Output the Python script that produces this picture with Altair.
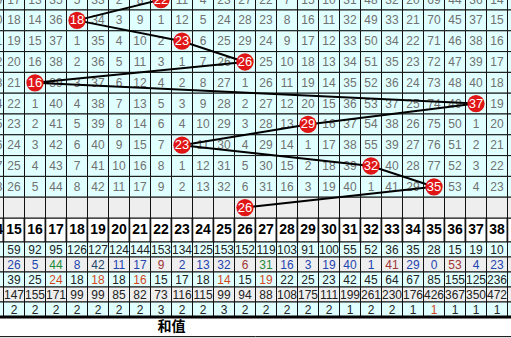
import altair as alt
import pandas as pd

# ---------------- data ----------------
cols = list(range(15, 39))                      # visible full columns (values)
edge_cols = [14, 39]                            # partially visible columns at the edges
draws = [22, 18, 23, 26, 16, 37, 29, 23, 32, 35, 26]   # drawn value per period (row)

# omission counts per period for columns 15..38 (hit cell holds 0)
miss_r0 = [17, 13, 35, 5, 33, 2, 8, 0, 11, 4, 23, 27, 22, 7, 15, 10, 31, 48, 32, 20, 69, 44, 36, 14]
miss_r1 = [18, 14, 36, 0, 34, 3, 9, 1, 12, 5, 24, 28, 23, 8, 16, 11, 32, 49, 33, 21, 70, 45, 37, 15]
miss_r2 = [19, 15, 37, 1, 35, 4, 10, 2, 0, 6, 25, 29, 24, 9, 17, 12, 33, 50, 34, 22, 71, 46, 38, 16]
miss_r3 = [20, 16, 38, 2, 36, 5, 11, 3, 1, 7, 26, 0, 25, 10, 18, 13, 34, 51, 35, 23, 72, 47, 39, 17]
miss_r4 = [21, 0, 39, 3, 37, 6, 12, 4, 2, 8, 27, 1, 26, 11, 19, 14, 35, 52, 36, 24, 73, 48, 40, 18]
miss_r5 = [22, 1, 40, 4, 38, 7, 13, 5, 3, 9, 28, 2, 27, 12, 20, 15, 36, 53, 37, 25, 74, 49, 0, 19]
miss_r6 = [23, 2, 41, 5, 39, 8, 14, 6, 4, 10, 29, 3, 28, 13, 0, 16, 37, 54, 38, 26, 75, 50, 1, 20]
miss_r7 = [24, 3, 42, 6, 40, 9, 15, 7, 0, 11, 30, 4, 29, 14, 1, 17, 38, 55, 39, 27, 76, 51, 2, 21]
miss_r8 = [25, 4, 43, 7, 41, 10, 16, 8, 1, 12, 31, 5, 30, 15, 2, 18, 39, 0, 40, 28, 77, 52, 3, 22]
miss_r9 = [26, 5, 44, 8, 42, 11, 17, 9, 2, 13, 32, 6, 31, 16, 3, 19, 40, 1, 41, 29, 0, 53, 4, 23]
miss_rows = [miss_r0, miss_r1, miss_r2, miss_r3, miss_r4, miss_r5, miss_r6, miss_r7, miss_r8, miss_r9]
col14_miss = [9, 10, 11, 12, 13, 14, 15, 16, 17, 18]   # left partial column (only last digit visible)

# statistics rows
stat_hits = [59, 92, 95, 126, 127, 124, 144, 153, 134, 125, 153, 152, 119, 103, 91, 100, 55, 52, 36, 35, 28, 15, 19, 10]
stat_current = [26, 5, 44, 8, 42, 11, 17, 9, 2, 13, 32, 6, 31, 16, 3, 19, 40, 1, 41, 29, 0, 53, 4, 23]
stat_avg = [39, 25, 24, 18, 18, 18, 16, 15, 17, 18, 14, 15, 19, 22, 25, 23, 42, 45, 64, 67, 85, 155, 125, 236]
stat_maxgap = [147, 155, 171, 99, 99, 85, 82, 73, 116, 115, 99, 94, 88, 108, 175, 111, 199, 261, 230, 176, 426, 367, 350, 472]
stat_maxrun = [2, 2, 2, 2, 2, 2, 2, 3, 2, 2, 3, 2, 2, 2, 2, 2, 1, 2, 2, 1, 1, 1, 1, 1]
current_level = ["cool", "cool", "warm", "cool", "deep", "cool", "cool", "hot",
                 "cool", "cool", "cool", "hot", "warm", "cool", "cool", "cool",
                 "cool", "cool", "hot", "cool", "cool", "hot", "cool", "cool"]
avg_level = ["plain", "plain", "mark", "plain", "mark", "plain", "mark", "plain",
             "plain", "plain", "mark", "plain", "mark", "plain", "plain", "plain",
             "plain", "plain", "plain", "plain", "plain", "plain", "plain", "plain"]
maxrun_level = ["plain"] * 20 + ["mark", "plain", "plain", "plain"]
footer_label = "和值"
table_span = (6, 39)   # full table column range; footer label is centred on it

# ---------------- layout / style ----------------
W = 511
H_GRID, H_HEAD, H_STAT, H_FOOT = 218, 24, 75, 21
LINE = "#111111"
FONT = "Liberation Sans"

xs = alt.Scale(domain=[301 / 21, 812 / 21], nice=False, zero=False)

# ---------------- grid (omission) panel ----------------
all_cols = [edge_cols[0]] + cols + [edge_cols[1]]
cells = pd.DataFrame([
    {"r": r, "c": c, "kind": "blank" if r == len(draws) - 1 else "plain"}
    for r in range(len(draws)) for c in all_cols
])
gtext = pd.DataFrame([
    {"r": r, "c": c, "v": v}
    for r, row in enumerate(miss_rows) for c, v in zip(cols, row) if c != draws[r]
])
gleft = pd.DataFrame({"r": list(range(len(col14_miss))), "c": edge_cols[0], "v": col14_miss})
balls = pd.DataFrame({"r": list(range(len(draws))), "draw": draws})

ys_grid = alt.Scale(domain=[0.02, 10.5], reverse=True, nice=False, zero=False)

g_rect = alt.Chart(cells).mark_rect(stroke=LINE, strokeWidth=1, clip=True).transform_calculate(
    x0="datum.c - 0.5", x1="datum.c + 0.5", y0="datum.r - 0.5", y1="datum.r + 0.5"
).encode(
    x=alt.X("x0:Q", scale=xs, axis=None), x2="x1:Q",
    y=alt.Y("y0:Q", scale=ys_grid, axis=None), y2="y1:Q",
    fill=alt.Fill("kind:N", scale=alt.Scale(domain=["plain", "blank"], range=["#E0FFFF", "#EEEEEE"]), legend=None),
)
g_text = alt.Chart(gtext).mark_text(font=FONT, fontSize=12, color="#707070", baseline="middle", clip=True).encode(
    x=alt.X("c:Q", scale=xs, axis=None), y=alt.Y("r:Q", scale=ys_grid, axis=None), text="v:Q"
)
g_left = alt.Chart(gleft).mark_text(font=FONT, fontSize=12, color="#707070", baseline="middle",
                                    align="right", dx=-1, clip=True).transform_calculate(
    xr="datum.c + 0.5").encode(
    x=alt.X("xr:Q", scale=xs, axis=None), y=alt.Y("r:Q", scale=ys_grid, axis=None), text="v:Q"
)
g_line = alt.Chart(balls).mark_line(color="black", strokeWidth=2, clip=True).encode(
    x=alt.X("draw:Q", scale=xs, axis=None), y=alt.Y("r:Q", scale=ys_grid, axis=None), order="r:Q"
)
g_ball = alt.Chart(balls).mark_circle(size=300, color="#E01515", opacity=1, clip=True).encode(
    x=alt.X("draw:Q", scale=xs, axis=None), y=alt.Y("r:Q", scale=ys_grid, axis=None)
)
g_btxt = alt.Chart(balls).mark_text(font=FONT, fontSize=13, color="white", baseline="middle", clip=True).encode(
    x=alt.X("draw:Q", scale=xs, axis=None), y=alt.Y("r:Q", scale=ys_grid, axis=None), text="draw:Q"
)
grid = alt.layer(g_rect, g_text, g_left, g_line, g_ball, g_btxt).properties(width=W, height=H_GRID)

# ---------------- header panel ----------------
hcells = pd.DataFrame({"c": all_cols})
hlab = pd.DataFrame({"c": cols})
ys_one = alt.Scale(domain=[-0.5, 0.5], nice=False, zero=False)
h_rect = alt.Chart(hcells).mark_rect(fill="white", stroke=LINE, strokeWidth=1.5, clip=True).transform_calculate(
    x0="datum.c - 0.5", x1="datum.c + 0.5", y0="-0.5", y1="0.5"
).encode(
    x=alt.X("x0:Q", scale=xs, axis=None), x2="x1:Q",
    y=alt.Y("y0:Q", scale=ys_one, axis=None), y2="y1:Q",
)
h_text = alt.Chart(hlab).mark_text(font=FONT, fontSize=14, fontWeight="bold", color="black",
                                   baseline="middle", clip=True).transform_calculate(yc="0").encode(
    x=alt.X("c:Q", scale=xs, axis=None), y=alt.Y("yc:Q", scale=ys_one, axis=None), text="c:Q"
)
h_left = alt.Chart(pd.DataFrame({"c": [edge_cols[0]]})).mark_text(
    font=FONT, fontSize=14, fontWeight="bold", color="black", baseline="middle",
    align="right", dx=-0.5, clip=True).transform_calculate(xr="datum.c + 0.5", yc="0").encode(
    x=alt.X("xr:Q", scale=xs, axis=None), y=alt.Y("yc:Q", scale=ys_one, axis=None), text="c:Q"
)
header = alt.layer(h_rect, h_text, h_left).properties(width=W, height=H_HEAD)

# ---------------- statistics panel ----------------
stat_rows = [(stat_hits, ["plain"] * 24), (stat_current, current_level), (stat_avg, avg_level),
             (stat_maxgap, ["plain"] * 24), (stat_maxrun, maxrun_level)]
scells = pd.DataFrame([
    {"i": i, "c": c, "band": "odd" if i % 2 == 0 else "even"}
    for i in range(len(stat_rows)) for c in all_cols
])
stext = pd.DataFrame([
    {"i": i, "c": c, "v": v, "lvl": lv}
    for i, (vals, lvls) in enumerate(stat_rows) for c, v, lv in zip(cols, vals, lvls)
])
ys_stat = alt.Scale(domain=[-0.5, 4.5], reverse=True, nice=False, zero=False)
s_rect = alt.Chart(scells).mark_rect(stroke=LINE, strokeWidth=1, clip=True).transform_calculate(
    x0="datum.c - 0.5", x1="datum.c + 0.5", y0="datum.i - 0.5", y1="datum.i + 0.5"
).encode(
    x=alt.X("x0:Q", scale=xs, axis=None), x2="x1:Q",
    y=alt.Y("y0:Q", scale=ys_stat, axis=None), y2="y1:Q",
    fill=alt.Fill("band:N", scale=alt.Scale(domain=["odd", "even"], range=["#FFFBCC", "#CCF7F7"]), legend=None),
)
s_text = alt.Chart(stext).mark_text(font=FONT, fontSize=12, baseline="middle", clip=True).encode(
    x=alt.X("c:Q", scale=xs, axis=None), y=alt.Y("i:Q", scale=ys_stat, axis=None), text="v:Q",
    color=alt.Color("lvl:N", scale=alt.Scale(
        domain=["plain", "cool", "warm", "hot", "deep", "mark"],
        range=["#222222", "#1F45B0", "#1E8A3A", "#A03535", "#24476A", "#D2461E"]), legend=None),
)
s_bottom = alt.Chart(pd.DataFrame({"x0": [all_cols[0] - 0.5], "x1": [all_cols[-1] + 0.5], "y": [4.5]})).mark_rule(
    color="black", strokeWidth=3, clip=True).encode(
    x=alt.X("x0:Q", scale=xs, axis=None), x2="x1:Q", y=alt.Y("y:Q", scale=ys_stat, axis=None)
)
stats = alt.layer(s_rect, s_text, s_bottom).properties(width=W, height=H_STAT)

# ---------------- footer panel ----------------
ys_foot = alt.Scale(domain=[-0.5, 0.57], reverse=True, nice=False, zero=False)
f_rules = alt.Chart(pd.DataFrame({"x0": [all_cols[0] - 0.5] * 2, "x1": [all_cols[-1] + 0.5] * 2,
                                  "y": [-0.5, 0.5], "w": ["thick", "thin"]})).mark_rule(
    color="black", clip=True).encode(
    x=alt.X("x0:Q", scale=xs, axis=None), x2="x1:Q", y=alt.Y("y:Q", scale=ys_foot, axis=None),
    strokeWidth=alt.StrokeWidth("w:N", scale=alt.Scale(domain=["thick", "thin"], range=[3, 1]), legend=None),
)
f_text = alt.Chart(pd.DataFrame({"lab": [footer_label], "a": [table_span[0]], "b": [table_span[1]]})).mark_text(
    font="Noto Sans CJK SC", fontSize=14, fontWeight="bold", color="black", baseline="middle", clip=True
).transform_calculate(xc="(datum.a + datum.b) / 2", yc="0").encode(
    x=alt.X("xc:Q", scale=xs, axis=None), y=alt.Y("yc:Q", scale=ys_foot, axis=None), text="lab:N"
)
footer = alt.layer(f_rules, f_text).properties(width=W, height=H_FOOT)

chart = alt.vconcat(grid, header, stats, footer, spacing=0).properties(
    padding=0, background="white"
).configure_view(strokeWidth=0).resolve_scale(x="independent", y="independent")

chart.save("out.html", embed_options={"renderer": "svg", "actions": False})
